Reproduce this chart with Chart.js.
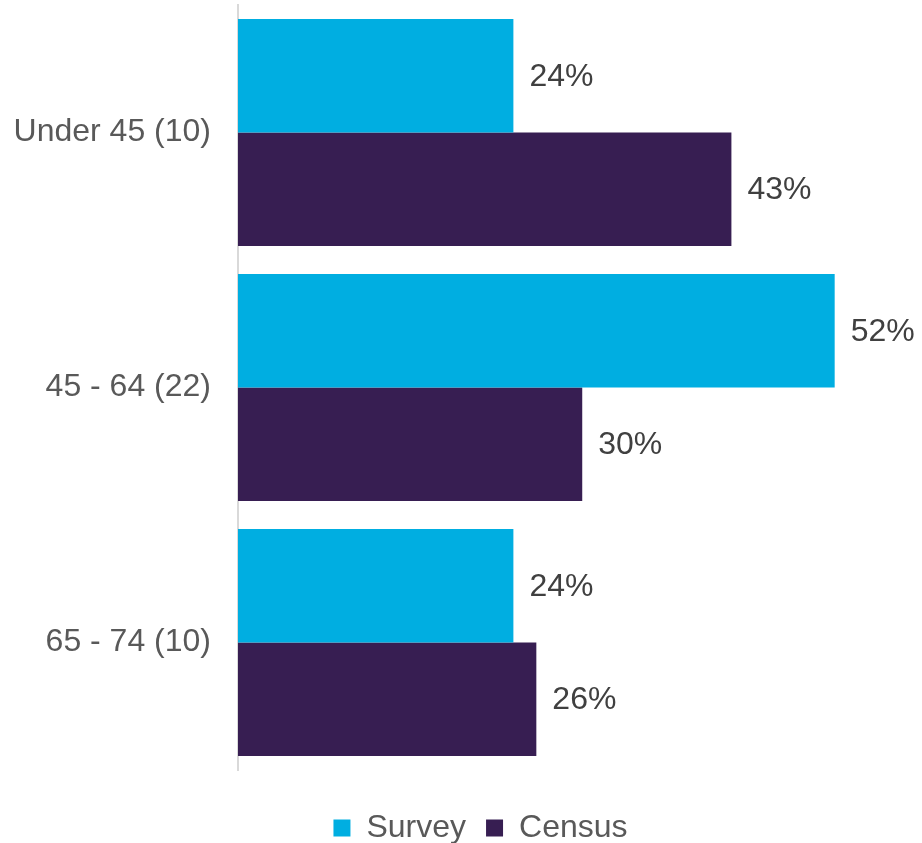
<!DOCTYPE html>
<html>
<head>
<meta charset="utf-8">
<script src="https://cdn.jsdelivr.net/npm/chart.js@4.4.0/dist/chart.umd.min.js"></script>
<style>
  html, body { margin: 0; padding: 0; background: #fff; }
  #wrap { width: 922px; height: 843px; }
</style>
</head>
<body>
<div id="wrap"><canvas id="ageChart" width="922" height="843"></canvas></div>
<script>
// age groups (number of respondents in brackets)
const categories = ['Under 45 (10)', '45 - 64 (22)', '65 - 74 (10)'];
const surveyValues = [24, 52, 24];
const censusValues = [43, 30, 26];

const FONT = "'Liberation Sans', Arial, sans-serif";

// writes the percentage just past the end of each bar
const barLabels = {
  id: 'barLabels',
  afterDatasetsDraw(chart) {
    const ctx = chart.ctx;
    ctx.save();
    ctx.font = '32px ' + FONT;
    ctx.fillStyle = '#404040';
    ctx.textAlign = 'left';
    ctx.textBaseline = 'middle';
    chart.data.datasets.forEach((ds, i) => {
      chart.getDatasetMeta(i).data.forEach((bar, j) => {
        ctx.fillText(ds.data[j] + '%', bar.x + 16, bar.y + 1);
      });
    });
    ctx.restore();
  }
};

// nudge the legend a bit right and down, under the plot
const legendNudge = {
  id: 'legendNudge',
  afterLayout(chart) {
    const lg = chart.legend;
    if (!lg) return;
    lg.left += 16; lg.right += 16;
    lg.top += 22; lg.bottom += 22;
  }
};

let ageChart = new Chart(document.getElementById('ageChart').getContext('2d'), {
  type: 'bar',
  data: {
    labels: categories,
    datasets: [
      {
        label: 'Survey',
        data: surveyValues,
        backgroundColor: '#00AEE1',
        categoryPercentage: 0.89,
        barPercentage: 1
      },
      {
        label: 'Census',
        data: censusValues,
        backgroundColor: '#371E52',
        categoryPercentage: 0.89,
        barPercentage: 1
      }
    ]
  },
  options: {
    indexAxis: 'y',
    responsive: false,
    animation: false,
    layout: { padding: { left: 14, right: 7, top: 5, bottom: 11 } },
    scales: {
      x: {
        display: false,
        min: 0,
        max: 59
      },
      y: {
        grid: { display: false, drawTicks: false },
        border: { display: true, color: '#d9d9d9', width: 2 },
        ticks: {
          color: '#595959',
          font: { family: FONT, size: 32 },
          padding: 27
        },
        afterFit(scale) {
          scale.width = 224;
          scale.paddingTop = 0;
          scale.paddingBottom = 0;
        }
      }
    },
    plugins: {
      legend: {
        position: 'bottom',
        labels: {
          color: '#595959',
          font: { family: FONT, size: 32 },
          boxWidth: 17,
          boxHeight: 17,
          padding: 20
        }
      },
      tooltip: { enabled: false }
    }
  },
  plugins: [barLabels, legendNudge]
});
</script>
</body>
</html>
